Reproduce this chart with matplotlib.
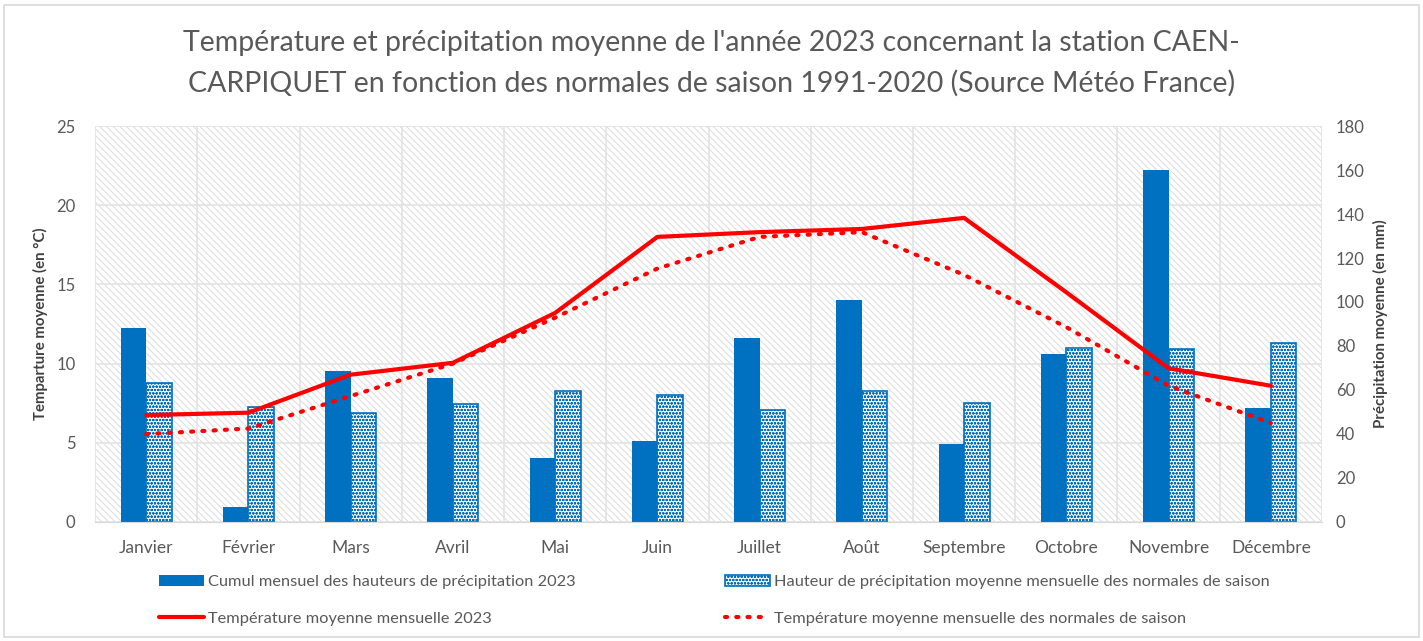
import matplotlib
matplotlib.use("Agg")
import matplotlib.pyplot as plt
from matplotlib.patches import Rectangle
import numpy as np

# Data
mois = ["Janvier", "Février", "Mars", "Avril", "Mai", "Juin", "Juillet",
        "Août", "Septembre", "Octobre", "Novembre", "Décembre"]
precip_2023 = [88.2, 6.8, 68.6, 65.5, 29.1, 36.8, 83.6, 100.9, 35.5, 76.4, 160.0, 51.8]
precip_normale = [63.2, 52.3, 49.5, 53.6, 59.5, 57.7, 50.9, 59.5, 54.1, 79.0, 78.6, 81.3]
temp_2023 = [6.75, 6.9, 9.3, 10.05, 13.2, 18.0, 18.3, 18.5, 19.2, 14.5, 9.7, 8.6]
temp_normale = [5.55, 5.9, 7.95, 10.0, 12.9, 16.0, 18.0, 18.3, 15.6, 12.3, 8.6, 6.25]

titre = ("Température et précipitation moyenne de l'année 2023 concernant la station CAEN-\n"
         "CARPIQUET en fonction des normales de saison 1991-2020 (Source Météo France)")

BLEU = "#0070C0"
ROUGE = "#FF0000"
GRIS = "#595959"

plt.rcParams['font.family'] = ['Lato', 'DejaVu Sans']
plt.rcParams['hatch.linewidth'] = 0.7

fig = plt.figure(figsize=(14.23, 6.41), dpi=100)
# Outer frame of the chart
fig.patches.append(Rectangle((0.003, 0.006), 0.994, 0.986, transform=fig.transFigure,
                             fill=False, edgecolor="#d9d9d9", linewidth=1.2))

ax = fig.add_axes([0.0668, 0.1857, 0.8622, 0.6177])
ax2 = ax.twinx()

x = np.arange(len(mois))

# Background: light diagonal hatch
ax.add_patch(Rectangle((0, 0), 1, 1, transform=ax.transAxes, facecolor="white",
                       edgecolor="#dcdcdc", hatch="\\" * 5, linewidth=0, zorder=0))

ax.set_xlim(-0.5, len(mois) - 0.5)
ax.set_ylim(0, 25)
ax.set_yticks(np.arange(0, 26, 5))
ax2.set_ylim(0, 180)
ax2.set_yticks(np.arange(0, 181, 20))

# Grid: horizontal on temperature ticks, vertical every half-category
ax.set_xticks(x)
ax.set_xticks(np.arange(-0.5, len(mois), 0.5), minor=True)
ax.grid(True, which="minor", axis="x", color="#e3e3e3", linewidth=1.2, zorder=1)
ax.grid(True, which="major", axis="y", color="#e3e3e3", linewidth=1.2, zorder=1)
ax.set_axisbelow(True)
ax.set_xticklabels(mois)

# Bars on precipitation axis
w = 0.25
b1 = ax2.bar(x - w / 2, precip_2023, w, color=BLEU, zorder=2)
b2 = ax2.bar(x + w / 2, precip_normale, w, facecolor="white", edgecolor=BLEU,
             hatch="ooooo", linewidth=1.2, zorder=2)

# Temperature lines drawn above the bars (temperature scale)
l1, = ax2.plot(x, temp_2023, color=ROUGE, linewidth=3, transform=ax.transData, zorder=3,
               solid_capstyle="round")
l2, = ax2.plot(x, temp_normale, color=ROUGE, linewidth=3, linestyle=(0, (0.5, 2.2)),
               dash_capstyle="round", transform=ax.transData, zorder=3)

for a in (ax, ax2):
    for s in ("top", "left", "right"):
        a.spines[s].set_visible(False)
    a.spines["bottom"].set_color("#d9d9d9")
    a.tick_params(axis="both", which="both", length=0, colors=GRIS, labelsize=12)
ax.tick_params(axis="x", pad=13, labelsize=12.5)
ax.tick_params(axis="y", pad=14)
ax2.tick_params(axis="y", pad=10)

ax.set_ylabel("Temparture moyenne (en °C)", fontsize=10.8, fontweight="bold",
              color="#404040", labelpad=6)
ax2.set_ylabel("Précipitation moyenne (en mm)", fontsize=10.8, fontweight="bold",
               color="#404040", labelpad=6)

fig.suptitle(titre, fontsize=20.5, color=GRIS, y=0.953, linespacing=1.65)

handles = [b1, l1, b2, l2]
labels = ["Cumul mensuel des hauteurs de précipitation 2023",
          "Température moyenne mensuelle 2023",
          "Hauteur de précipitation moyenne mensuelle des normales de saison",
          "Température moyenne mensuelle des normales de saison"]
fig.legend(handles, labels, ncol=2, loc="lower left", bbox_to_anchor=(0.1016, 0.001),
           frameon=False, fontsize=11.8, labelcolor=GRIS, columnspacing=9.1,
           handlelength=2.7, handletextpad=0.3, labelspacing=1.35)

fig.savefig("out.png", dpi=100)
